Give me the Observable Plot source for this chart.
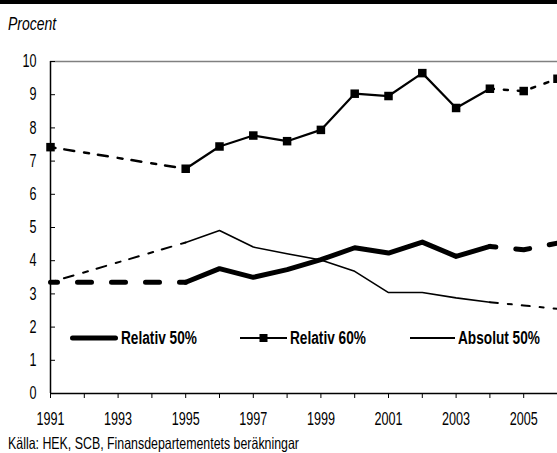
<!DOCTYPE html>
<html>
<head>
<meta charset="utf-8">
<script src="https://cdn.jsdelivr.net/npm/d3@7"></script>
<script src="https://cdn.jsdelivr.net/npm/@observablehq/plot@0.6"></script>
<style>
  html, body { margin: 0; padding: 0; background: #fff; overflow: hidden; }
  body { width: 557px; height: 453px; position: relative; font-family: "Liberation Sans", Arial, sans-serif; color: #000; }
  .narrow { display: inline-block; transform-origin: 0 50%; white-space: nowrap; }
  #bar { position: absolute; left: 0; top: 0; width: 557px; height: 4px; background: #000; }
  #unit { position: absolute; left: 8px; top: 14px; font-size: 17.5px; font-style: italic; line-height: 20px; }
  #unit .narrow { transform: scaleX(0.8); }
  #chart { position: absolute; left: 0; top: 40px; }
  #legend { position: absolute; top: 328px; left: 0; height: 20px; width: 557px; }
  .item { position: absolute; top: 0; height: 20px; display: flex; align-items: center; font-weight: bold; font-size: 17.5px; white-space: nowrap; }
  .item .narrow { transform: scaleX(0.78); }
  .item svg { display: block; margin-right: 3px; flex: none; }
  #caption { position: absolute; left: 8px; top: 434px; font-size: 16.5px; line-height: 18px; }
  #caption .narrow { transform: scaleX(0.75); }
</style>
</head>
<body>
<div id="bar"></div>
<div id="unit"><span class="narrow">Procent</span></div>
<div id="chart"></div>
<div id="legend"></div>
<div id="caption"><span class="narrow">Källa: HEK, SCB, Finansdepartementets beräkningar</span></div>
<script>
// ---- data ----
const years      = [1991, 1995, 1996, 1997, 1998, 1999, 2000, 2001, 2002, 2003, 2004, 2005, 2006];
const relativ50  = [3.35, 3.35, 3.76, 3.50, 3.73, 4.03, 4.39, 4.23, 4.56, 4.13, 4.43, 4.33, 4.53];
const relativ60  = [7.42, 6.77, 7.44, 7.77, 7.60, 7.94, 9.03, 8.96, 9.65, 8.60, 9.18, 9.11, 9.48];
const absolut50  = [3.35, 4.55, 4.91, 4.41, 4.21, 4.02, 3.68, 3.04, 3.04, 2.88, 2.75, 2.65, 2.55];
const seriesNames = ["Relativ 50%", "Relativ 60%", "Absolut 50%"];
const xTickYears  = [1991,1992,1993,1994,1995,1996,1997,1998,1999,2000,2001,2002,2003,2004,2005,2006];
const xLabelYears = [1991, 1993, 1995, 1997, 1999, 2001, 2003, 2005];
const yTicks      = [0,1,2,3,4,5,6,7,8,9,10];
const solidFrom = 1995, solidTo = 2004;

const rows = years.map((year, i) => ({year, r50: relativ50[i], r60: relativ60[i], a50: absolut50[i]}));
const early = rows.filter(d => d.year <= solidFrom);
const solid = rows.filter(d => d.year >= solidFrom && d.year <= solidTo);
const late  = rows.filter(d => d.year >= solidTo);

const FONT = '"Liberation Sans", Arial, sans-serif';

const chart = Plot.plot({
  width: 557,
  height: 393,
  marginTop: 21,
  marginLeft: 50,
  marginRight: 0,
  marginBottom: 40,
  style: {fontFamily: FONT, fontSize: "18px", color: "#000", background: "transparent", overflow: "visible"},
  x: {domain: [1991, 2006], axis: null},
  y: {domain: [0, 10], axis: null},
  marks: [
    Plot.ruleY([10], {stroke: "#808080", strokeWidth: 1.5}),
    // y axis: inward ticks + labels
    Plot.axisY(yTicks, {anchor: "left", tickSize: -5, tickFormat: () => "", stroke: "#000", label: null}),
    Plot.axisY(yTicks, {anchor: "left", tickSize: 0, tickPadding: 14, tickFormat: d => String(d), fontSize: 18, label: null}),
    // x axis: ticks every year, labels on odd years
    Plot.axisX(xTickYears, {anchor: "bottom", tickSize: 5, tickFormat: () => "", stroke: "#000", label: null}),
    Plot.axisX(xLabelYears, {anchor: "bottom", tickSize: 0, tickPadding: 19, tickFormat: d => String(d), fontSize: 18, label: null}),
    Plot.ruleX([1991], {stroke: "#000", strokeWidth: 1.5}),
    Plot.ruleY([0], {stroke: "#000", strokeWidth: 1.5}),
    // Absolut 50%
    Plot.line(early, {x: "year", y: "a50", stroke: "#000", strokeWidth: 2, strokeDasharray: "5,9,10,10"}),
    Plot.line(solid, {x: "year", y: "a50", stroke: "#000", strokeWidth: 1.6}),
    Plot.line(late,  {x: "year", y: "a50", stroke: "#000", strokeWidth: 2, strokeDasharray: "8,10,4,10"}),
    // Relativ 50%
    Plot.line(early, {x: "year", y: "r50", stroke: "#000", strokeWidth: 5, strokeDasharray: "14,20", strokeDashoffset: 7}),
    Plot.line(solid, {x: "year", y: "r50", stroke: "#000", strokeWidth: 5}),
    Plot.line(late,  {x: "year", y: "r50", stroke: "#000", strokeWidth: 5, strokeDasharray: "14,20", strokeDashoffset: 8}),
    // Relativ 60%
    Plot.line(early, {x: "year", y: "r60", stroke: "#000", strokeWidth: 2.5, strokeDasharray: "5,9,10,10"}),
    Plot.line(solid, {x: "year", y: "r60", stroke: "#000", strokeWidth: 2.2}),
    Plot.line(late,  {x: "year", y: "r60", stroke: "#000", strokeWidth: 2.5, strokeDasharray: "4,10"}),
    Plot.dot(rows, {x: "year", y: "r60", symbol: "square", r: 4.8, fill: "#000", stroke: null})
  ]
});
document.getElementById("chart").appendChild(chart);
// condense SVG text (narrow grotesque look)
chart.querySelectorAll("text").forEach(t => {
  const L = t.getComputedTextLength();
  if (L > 0) {
    t.setAttribute("textLength", (L * 0.7).toFixed(2));
    t.setAttribute("lengthAdjust", "spacingAndGlyphs");
  }
});

// ---- legend (HTML) ----
const legendStyles = [
  {left: 70, w: 48, sw: 5, marker: false},
  {left: 240, w: 47, sw: 2.2, marker: true},
  {left: 410, w: 45, sw: 1.8, marker: false}
];
const legend = document.getElementById("legend");
const ns = "http://www.w3.org/2000/svg";
seriesNames.forEach((name, i) => {
  const s = legendStyles[i];
  const div = document.createElement("div");
  div.className = "item";
  div.style.left = s.left + "px";
  const svg = document.createElementNS(ns, "svg");
  svg.setAttribute("width", s.w);
  svg.setAttribute("height", 20);
  const ln = document.createElementNS(ns, "line");
  ln.setAttribute("x1", s.sw >= 5 ? 2.5 : 0); ln.setAttribute("x2", s.sw >= 5 ? s.w - 2.5 : s.w);
  ln.setAttribute("y1", 10); ln.setAttribute("y2", 10);
  ln.setAttribute("stroke", "#000"); ln.setAttribute("stroke-width", s.sw);
  if (s.sw >= 5) ln.setAttribute("stroke-linecap", "round");
  svg.appendChild(ln);
  if (s.marker) {
    const r = document.createElementNS(ns, "rect");
    r.setAttribute("x", s.w / 2 - 4); r.setAttribute("y", 6);
    r.setAttribute("width", 8); r.setAttribute("height", 8);
    r.setAttribute("fill", "#000");
    svg.appendChild(r);
  }
  div.appendChild(svg);
  const t = document.createElement("span");
  t.className = "narrow";
  t.textContent = name;
  div.appendChild(t);
  legend.appendChild(div);
});
</script>
</body>
</html>
